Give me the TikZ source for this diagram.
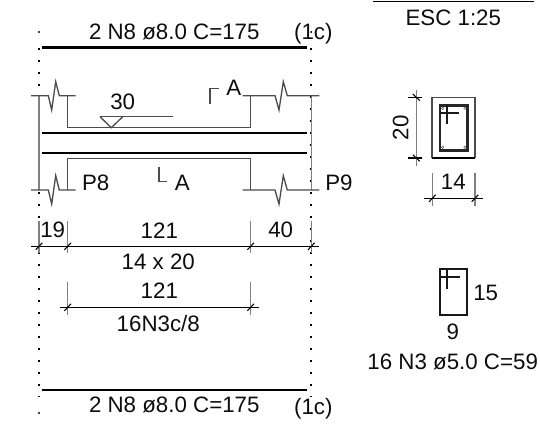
\documentclass[tikz,border=0pt]{standalone}
\usepackage{fontspec}
\setmainfont{Liberation Sans}
\usepackage{tikz}
\usetikzlibrary{calc}

\begin{document}
\begin{tikzpicture}[x=0.02cm,y=-0.02cm,
	label/.style={font=\fontsize{12.7}{15}\selectfont,text=black!95,inner sep=0pt},
	bar/.style={line width=1.3pt,black},
	concrete/.style={line width=0.75pt,black!70},
	extline/.style={line width=0.85pt,black!50},
	dimline/.style={line width=0.6pt,black},
	stirrup/.style={line width=1.1pt,black!90},
	]
	\useasboundingbox (0,0) rectangle (540,424);

	% Dotted axes
	\foreach \xa in {39,311.3} {
		\draw[line width=1.2pt,black,dash pattern=on 1.2pt off 5.63pt] (\xa,48) -- (\xa,397);
		\fill[black] (\xa,32) circle (1.1);
		\fill[black] (\xa,413) circle (1.1);
	}
	\draw[extline] (39,95.7) -- (39,190);
	\draw[extline] (311.3,95.7) -- (311.3,190);

	% Top and bottom bars
	\draw[bar] (41.7,47.5) -- (307,47.5);
	\draw[bar] (41.7,390) -- (307,390);
	\node[label] (barTop) at (174.3,32) {2 N8 ø8.0 C=175};
	\node[label] (layerTop) at (313.3,33.3) {(1c)};
	\node[label] (barBot) at (174.3,405) {2 N8 ø8.0 C=175};
	\node[label] (layerBot) at (313.3,408.3) {(1c)};

	% Beam elevation
	\draw[concrete] (31,95.7) -- (48.3,95.7) -- (51.7,110) -- (55.7,81.7) -- (59.3,95.7) -- (75.7,95.7);
	\draw[concrete] (242.7,95.7) -- (275,95.7) -- (279,110) -- (283.3,81.7) -- (287.3,95.7) -- (319.3,95.7);
	\draw[concrete] (67.7,95.7) -- (67.7,127.7) -- (250.7,127.7) -- (250.7,95.7);
	\draw[concrete] (31,190) -- (48.3,190) -- (51.7,204) -- (55.7,175.7) -- (59.3,190) -- (75.7,190);
	\draw[concrete] (242.7,190) -- (275,190) -- (279,204) -- (283.3,175.7) -- (287.3,190) -- (319.3,190);
	\draw[concrete] (67.7,190) -- (67.7,158.7) -- (250.7,158.7) -- (250.7,190);
	\draw[bar] (41.7,133) -- (307,133);
	\draw[bar] (41.7,153.3) -- (307,153.3);

	% Level mark
	\draw[concrete] (100,116.7) -- (172.7,116.7);
	\draw[concrete] (100,116.7) -- (111.3,127.7) -- (122.7,116.7);
	\node[label] (level) at (122.7,101.7) {30};

	% Section marks
	\draw[concrete] (219,88.3) -- (210,88.3) -- (210,104);
	\node[label] (cutTop) at (233.7,88.3) {A};
	\draw[concrete] (159,166.7) -- (159,181.7) -- (167,181.7);
	\node[label] (cutBot) at (182.3,182.7) {A};
	\node[label] (colLeft) at (95.7,182.7) {P8};
	\node[label] (colRight) at (339,182.7) {P9};

	% Beam dimensions
	\draw[dimline] (31,246.3) -- (319.3,246.3);
	\foreach \xa in {39,67.7,250.7,311.3} {
		\draw[extline] (\xa,221.3) -- (\xa,253.3);
		\draw[dimline] ($(\xa,246.3)+(-3.3,3.5)$) -- ($(\xa,246.3)+(3.3,-3.5)$);
	}
	\node[label] (spanA) at (52.7,230.3) {19};
	\node[label] (spanB) at (159.3,230.3) {121};
	\node[label] (spanC) at (280.7,230.3) {40};
	\node[label] (beamSize) at (158.3,262.3) {14 x 20};

	% Stirrup distribution
	\draw[dimline] (60,307.3) -- (258.7,307.3);
	\foreach \xa in {67.7,250.7} {
		\draw[extline] (\xa,282) -- (\xa,314.7);
		\draw[dimline] ($(\xa,307.3)+(-3.3,3.5)$) -- ($(\xa,307.3)+(3.3,-3.5)$);
	}
	\node[label] (distLen) at (159.3,290.7) {121};
	\node[label] (distBar) at (158.3,323.3) {16N3c/8};

	% Title
	\draw[dimline] (373.3,1.7) -- (534,1.7);
	\node[label] (scaleText) at (453.3,18.3) {ESC 1:25};

	% Cross section
	\draw[concrete] (432,158) -- (432,97.3) -- (475,97.3) -- (475,158);
	\draw[dimline] (432,158) -- (475,158);
	\draw[line width=1.5pt,black!85] (440,105.3) rectangle (467.7,150.3);
	\draw[stirrup] (440,112.7) -- (459.3,112.7);
	\draw[stirrup] (447.3,105.3) -- (447.3,124.3);
	\foreach \xa/\ya in {442.7/108.3,465/108.3,442.7/147.3,465/147.3} {
		\draw[line width=0.3pt,black!60] (\xa,\ya) circle (1.3);
	}
	\draw[extline] (416.3,90) -- (416.3,165.7);
	\foreach \ya in {97.3,158} {
		\draw[dimline] (408.3,\ya) -- (421.7,\ya);
		\draw[dimline] ($(416.3,\ya)+(-3.5,-3.3)$) -- ($(416.3,\ya)+(3.5,3.3)$);
	}
	\node[label,rotate=90] (secHeight) at (400.7,127.7) {20};
	\draw[dimline] (424.3,198.3) -- (482.7,198.3);
	\foreach \xa in {432.3,475} {
		\draw[extline] (\xa,173.3) -- (\xa,205.7);
		\draw[dimline] ($(\xa,198.3)+(-3.3,3.5)$) -- ($(\xa,198.3)+(3.3,-3.5)$);
	}
	\node[label] (secWidth) at (453.3,182.3) {14};

	% Stirrup detail
	\draw[stirrup] (440,269.3) rectangle (467.3,315);
	\draw[stirrup] (440,276.7) -- (460,276.7);
	\draw[stirrup] (447.3,269.3) -- (447.3,289.3);
	\node[label] (stirH) at (485.7,292.7) {15};
	\node[label] (stirW) at (452.7,331.7) {9};
	\node[label] (stirBar) at (452.7,362.3) {16 N3 ø5.0 C=59};
\end{tikzpicture}
\end{document}
